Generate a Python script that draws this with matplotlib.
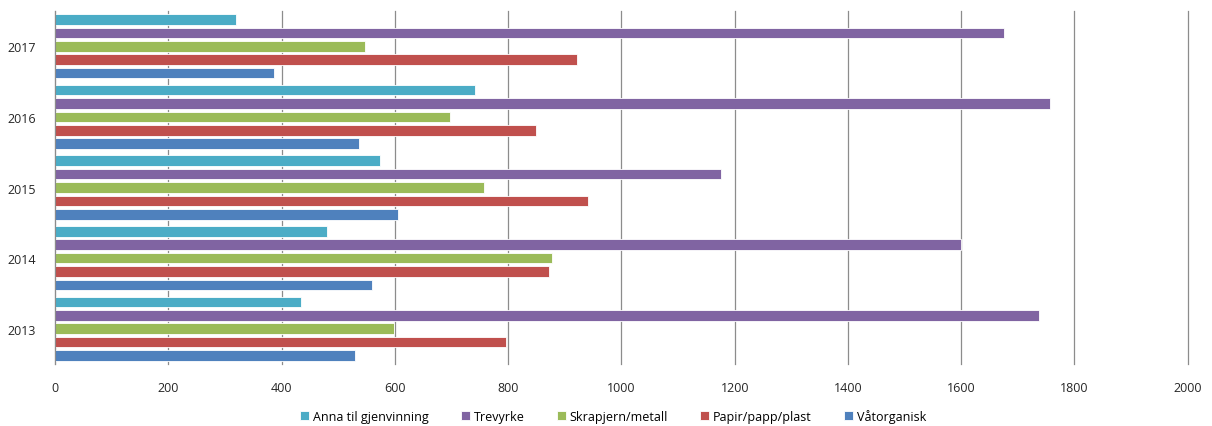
import numpy as np
import matplotlib.pyplot as plt

plt.rcParams['font.family'] = ['Open Sans', 'DejaVu Sans']

years = ['2013', '2014', '2015', '2016', '2017']
series_names = ['Våtorganisk', 'Papir/papp/plast', 'Skrapjern/metall',
                'Trevyrke', 'Anna til gjenvinning']
vatorganisk = [529, 559, 606, 537, 386]
papir = [796, 872, 941, 850, 921]
skrapjern = [599, 878, 757, 697, 547]
trevyrke = [1738, 1600, 1175, 1757, 1676]
anna = [434, 481, 574, 741, 319]
colors = ['#4F81BD', '#C0504D', '#9BBB59', '#8064A2', '#4BACC6']

values = [vatorganisk, papir, skrapjern, trevyrke, anna]

fig = plt.figure(figsize=(12.12, 4.27), dpi=100)
ax = fig.add_axes([0.0454, 0.145, 0.9346, 0.827])

y = np.arange(len(years))
slot = 0.19
height = 0.15
handles = []
for k, (name, vals, col) in enumerate(zip(series_names, values, colors)):
    off = (k - 2) * slot
    b = ax.barh(y + off, vals, height=height, color=col, label=name,
                edgecolor='white', linewidth=0.6, zorder=3)
    handles.append(b)

ax.set_xlim(0, 2000)
ax.set_ylim(-0.5, 4.5)
ax.set_xticks(np.arange(0, 2001, 200))
ax.set_yticks(y)
ax.set_yticklabels(years)
ax.grid(axis='x', color='#8c8c8c', linewidth=0.9, zorder=0)
for gl in ax.get_xgridlines():
    gl.set_clip_on(False)
for s in ['top', 'right', 'bottom']:
    ax.spines[s].set_visible(False)
ax.spines['left'].set_color('#8c8c8c')
ax.spines['left'].set_zorder(4)
ax.tick_params(axis='both', length=0, labelsize=9, colors='#262626')
ax.tick_params(axis='x', pad=12)
ax.tick_params(axis='y', pad=14)

fig.legend(handles[::-1], series_names[::-1], loc='center',
           bbox_to_anchor=(0.506, 0.024), ncol=5, frameon=False,
           fontsize=9, handlelength=0.7, handleheight=0.7,
           handletextpad=0.3, columnspacing=2.6)

fig.savefig('out.png', dpi=100)
